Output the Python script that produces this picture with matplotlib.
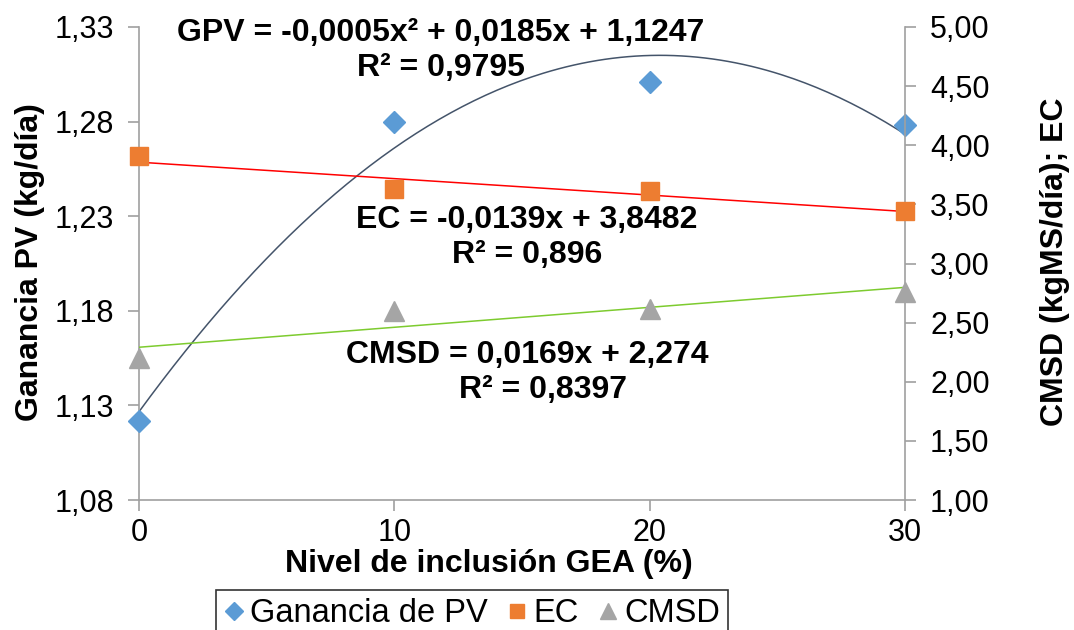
import numpy as np
import matplotlib.pyplot as plt

plt.rcParams['font.family'] = ['Liberation Sans', 'DejaVu Sans']

# data
nivel = [0, 10, 20, 30]
gpv = [1.122, 1.280, 1.301, 1.278]      # left axis, kg/dia
ec = [3.905, 3.628, 3.614, 3.446]       # right axis
cmsd = [2.205, 2.598, 2.615, 2.762]     # right axis

eq_gpv = ['GPV = -0,0005x² + 0,0185x + 1,1247', 'R² = 0,9795']
eq_ec = ['EC = -0,0139x + 3,8482', 'R² = 0,896']
eq_cmsd = ['CMSD = 0,0169x + 2,274', 'R² = 0,8397']

c_blue = '#5B9BD5'
c_orange = '#ED7D31'
c_gray = '#A5A5A5'
c_axis = '#A0A0A0'

fig = plt.figure(figsize=(10.74, 6.3), dpi=100)
ax = fig.add_axes([139/1074, 1 - 500/630, (905 - 139)/1074, 473/630])
ax2 = ax.twinx()

# trendlines fitted on the points (as Excel does)
xs = np.linspace(0, 30, 200)
p_gpv = np.polyfit(nivel, gpv, 2)
p_ec = np.polyfit(nivel, ec, 1)
p_cmsd = np.polyfit(nivel, cmsd, 1)
ax.plot(xs, np.polyval(p_gpv, xs), color='#44546A', lw=1.1, zorder=2)
ax2.plot(xs, np.polyval(p_ec, xs), color='#FF0000', lw=1.1, zorder=2)
ax2.plot(xs, np.polyval(p_cmsd, xs), color='#7DCB2F', lw=1.1, zorder=2)

h1, = ax.plot(nivel, gpv, ls='none', marker='D', ms=11, color=c_blue,
              label='Ganancia de PV', zorder=3, clip_on=False)
h2, = ax2.plot(nivel, ec, ls='none', marker='s', ms=13, color=c_orange,
               label='EC', zorder=3, clip_on=False)
h3, = ax2.plot(nivel, cmsd, ls='none', marker='^', ms=14, color=c_gray,
               label='CMSD', zorder=3, clip_on=False)

ax.set_xlim(0, 30)
ax.set_ylim(1.08, 1.33)
ax2.set_ylim(1.0, 5.0)
ax.set_xticks(nivel)
ax.set_yticks([1.08, 1.13, 1.18, 1.23, 1.28, 1.33])
ax.set_yticklabels(['1,08', '1,13', '1,18', '1,23', '1,28', '1,33'])
r_ticks = np.arange(1.0, 5.01, 0.5)
ax2.set_yticks(r_ticks)
ax2.set_yticklabels([('%.2f' % v).replace('.', ',') for v in r_ticks])

for a in (ax, ax2):
    a.patch.set_visible(False)
    for s in a.spines.values():
        s.set_color(c_axis)
        s.set_linewidth(1.2)
    a.spines['top'].set_visible(False)
    a.tick_params(colors=c_axis, labelcolor='black', labelsize=22,
                  length=8, width=1.2, direction='out', pad=10)
ax.tick_params(axis='x', pad=5)
ax.spines['right'].set_visible(False)
ax2.spines['left'].set_visible(False)
ax2.spines['bottom'].set_visible(False)

fig.text(30/1074, 1 - 262/630, 'Ganancia PV (kg/día)', rotation=90,
         ha='center', va='center', fontsize=23, fontweight='bold')
fig.text(1055/1074, 1 - 262/630, 'CMSD (kgMS/día); EC', rotation=90,
         ha='center', va='center', fontsize=23, fontweight='bold')
fig.text(489/1074, 1 - 572/630, 'Nivel de inclusión GEA (%)',
         ha='center', va='baseline', fontsize=23, fontweight='bold')

# equation labels
fs_eq = 23
fig.text(441/1074, 1 - 33/630, eq_gpv[0], ha='center', va='center',
         fontsize=fs_eq, fontweight='bold')
fig.text(441/1074, 1 - 68/630, eq_gpv[1], ha='center', va='center',
         fontsize=fs_eq, fontweight='bold')
fig.text(527/1074, 1 - 220/630, eq_ec[0], ha='center', va='center',
         fontsize=fs_eq, fontweight='bold')
fig.text(527/1074, 1 - 255/630, eq_ec[1], ha='center', va='center',
         fontsize=fs_eq, fontweight='bold')
fig.text(527/1074, 1 - 355/630, eq_cmsd[0], ha='center', va='center',
         fontsize=fs_eq, fontweight='bold')
fig.text(543/1074, 1 - 390/630, eq_cmsd[1], ha='center', va='center',
         fontsize=fs_eq, fontweight='bold')

leg = fig.legend(handles=[h1, h2, h3], loc='upper center', ncol=3,
                 bbox_to_anchor=(472/1074, 1 - 590/630), fontsize=23.5,
                 frameon=True, fancybox=False, edgecolor='black',
                 handlelength=0.6, handletextpad=0.2, columnspacing=0.6,
                 borderpad=0.25, borderaxespad=0, markerscale=0.8)
leg.get_frame().set_linewidth(1.2)

plt.savefig('out.png', dpi=100)
